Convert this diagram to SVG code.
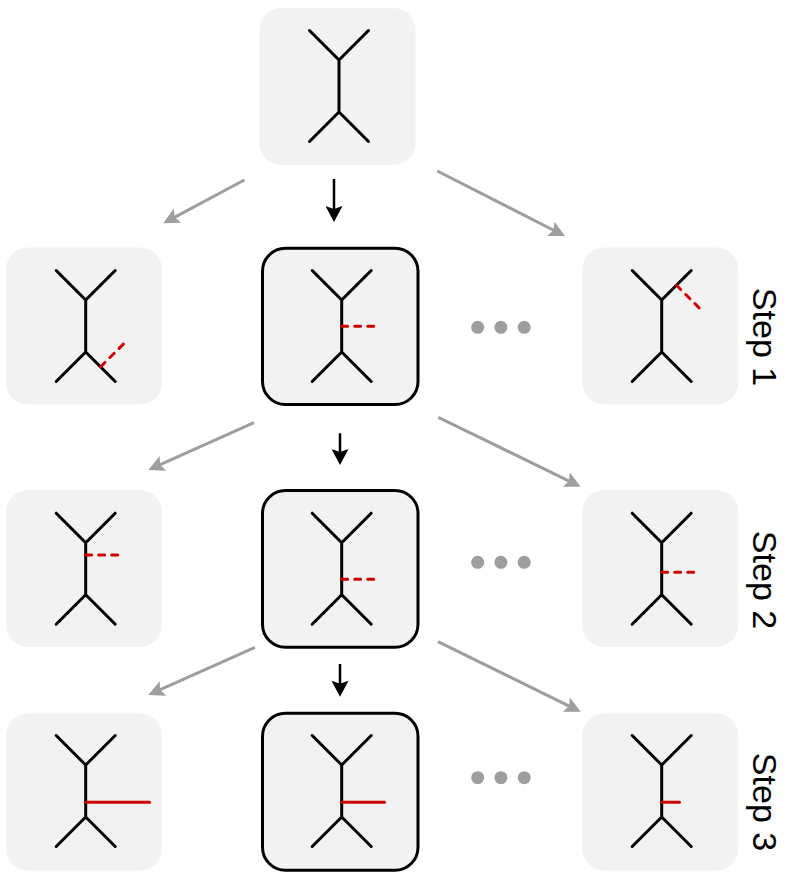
<svg xmlns="http://www.w3.org/2000/svg" width="788" height="878" viewBox="0 0 788 878">
<style>
.box{fill:#f2f2f2;}
.sel{fill:#f2f2f2;stroke:#000;stroke-width:3;}
.tree{fill:none;stroke:#000;stroke-width:3;stroke-linecap:round;stroke-linejoin:round;}
.rd{fill:none;stroke:#cc0000;stroke-width:3;stroke-linecap:round;stroke-dasharray:6 7;}
.rs{fill:none;stroke:#cc0000;stroke-width:3;stroke-linecap:round;}
.ga{fill:none;stroke:#9e9e9e;stroke-width:3;marker-end:url(#ag);}
.ba{fill:none;stroke:#000;stroke-width:2.5;marker-end:url(#ab);}
.dot{fill:#9e9e9e;}
.lbl{font-family:"Liberation Sans",Arial,sans-serif;font-size:34px;fill:#000;text-anchor:middle;}
</style>
<defs>
<path id="t" d="M-29.5,-29.5 L0,0 L29.5,-29.5 M0,0 L0,52 M-29.5,81.5 L0,52 L29.5,81.5"/>
<marker id="ag" markerUnits="userSpaceOnUse" viewBox="0 0 16 16" refX="6" refY="8" markerWidth="16" markerHeight="16" orient="auto">
<path d="M0,0 L16,8 L0,16 L3,8 z" fill="#9e9e9e"/>
</marker>
<marker id="ab" markerUnits="userSpaceOnUse" viewBox="0 0 16 17" refX="6" refY="8.5" markerWidth="16" markerHeight="17" orient="auto">
<path d="M0,0 L16,8.5 L0,17 L3,8.5 z" fill="#000"/>
</marker>
</defs>

<g id="connectors">
<line class="ga" x1="244.3" y1="180" x2="172.1" y2="218.6"/>
<line class="ba" x1="334" y1="179" x2="334" y2="212"/>
<line class="ga" x1="437.3" y1="171" x2="556.1" y2="231.5"/>
<line class="ga" x1="254" y1="422.7" x2="157.4" y2="465.9"/>
<line class="ba" x1="340" y1="433.3" x2="340" y2="455"/>
<line class="ga" x1="438.3" y1="417.3" x2="571.7" y2="482.3"/>
<line class="ga" x1="255" y1="647.3" x2="157.4" y2="690.9"/>
<line class="ba" x1="340" y1="664" x2="340" y2="686.7"/>
<line class="ga" x1="438" y1="641.7" x2="571.7" y2="707.3"/>
</g>

<g id="root">
<rect class="box" x="259.5" y="8" width="156" height="157" rx="22"/>
<use href="#t" class="tree" x="339" y="60"/>
</g>

<g id="s1-left">
<rect class="box" x="6" y="247.5" width="156" height="157" rx="22"/>
<use href="#t" class="tree" x="85.7" y="300"/>
<line class="rd" x1="100.7" y1="366.7" x2="127" y2="340.5"/>
</g>
<g id="s1-center">
<rect class="sel" x="262.5" y="248.2" width="155.5" height="156.3" rx="23"/>
<use href="#t" class="tree" x="341.7" y="300"/>
<line class="rd" x1="341.7" y1="326.2" x2="378.5" y2="326.2"/>
</g>
<g id="s1-dots">
<circle class="dot" cx="477.7" cy="327.3" r="6.5"/>
<circle class="dot" cx="500.9" cy="327.3" r="6.5"/>
<circle class="dot" cx="524.2" cy="327.3" r="6.5"/>
</g>
<g id="s1-right">
<rect class="box" x="582.3" y="247.5" width="156" height="157" rx="22"/>
<use href="#t" class="tree" x="661.7" y="300"/>
<line class="rd" x1="676.5" y1="285.3" x2="703" y2="311.8"/>
</g>
<text class="lbl" transform="translate(752.5,337) rotate(90)">Step 1</text>

<g id="s2-left">
<rect class="box" x="6" y="490" width="156" height="157" rx="22"/>
<use href="#t" class="tree" x="85.7" y="542.7"/>
<line class="rd" x1="85.7" y1="555" x2="122.5" y2="555"/>
</g>
<g id="s2-center">
<rect class="sel" x="262.5" y="490.5" width="155.5" height="156.7" rx="23"/>
<use href="#t" class="tree" x="341.7" y="542.7"/>
<line class="rd" x1="341.7" y1="579.3" x2="378.5" y2="579.3"/>
</g>
<g id="s2-dots">
<circle class="dot" cx="477.7" cy="562.3" r="6.5"/>
<circle class="dot" cx="500.9" cy="562.3" r="6.5"/>
<circle class="dot" cx="524.2" cy="562.3" r="6.5"/>
</g>
<g id="s2-right">
<rect class="box" x="582.3" y="490" width="156" height="157" rx="22"/>
<use href="#t" class="tree" x="661.7" y="542.7"/>
<line class="rd" x1="661.7" y1="572.3" x2="698.5" y2="572.3"/>
</g>
<text class="lbl" transform="translate(752.5,580) rotate(90)">Step 2</text>

<g id="s3-left">
<rect class="box" x="6" y="713.5" width="156" height="157" rx="22"/>
<use href="#t" class="tree" x="85.7" y="765"/>
<line class="rs" x1="85.7" y1="802.3" x2="149.5" y2="802.3"/>
</g>
<g id="s3-center">
<rect class="sel" x="262.5" y="713.2" width="155.5" height="157" rx="23"/>
<use href="#t" class="tree" x="341.7" y="765"/>
<line class="rs" x1="341.7" y1="802.3" x2="384.5" y2="802.3"/>
</g>
<g id="s3-dots">
<circle class="dot" cx="477.7" cy="777.7" r="6.5"/>
<circle class="dot" cx="500.9" cy="777.7" r="6.5"/>
<circle class="dot" cx="524.2" cy="777.7" r="6.5"/>
</g>
<g id="s3-right">
<rect class="box" x="582.3" y="713.5" width="156" height="157" rx="22"/>
<use href="#t" class="tree" x="661.7" y="765"/>
<line class="rs" x1="661.7" y1="802.3" x2="679.5" y2="802.3"/>
</g>
<text class="lbl" transform="translate(752.5,802) rotate(90)">Step 3</text>
</svg>
